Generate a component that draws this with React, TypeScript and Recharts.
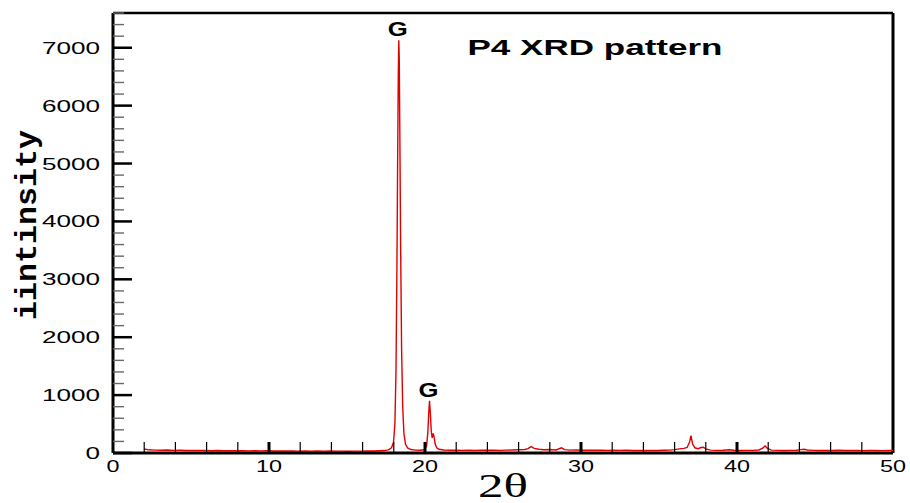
import React from 'react';
import { LineChart, Line, XAxis, YAxis, ReferenceLine, ReferenceDot } from 'recharts';

const twoTheta = [
  2.0, 2.3, 2.7, 3.1, 3.5, 3.9, 4.3, 4.7, 5.1, 5.5, 5.9, 6.3, 6.7, 7.1, 7.5, 7.9, 8.3, 8.7, 9.1, 9.5,
  9.9, 10.3, 10.7, 11.1, 11.5, 11.9, 12.3, 12.7, 13.1, 13.5, 13.9, 14.3, 14.7, 15.1, 15.5, 15.9, 16.3, 16.7, 17.1, 17.4,
  17.65, 17.85, 17.98, 18.07, 18.14, 18.2, 18.25, 18.29, 18.32, 18.35, 18.39, 18.44, 18.5, 18.57, 18.65, 18.75, 18.9, 19.1, 19.4, 19.7,
  19.95, 20.1, 20.18, 20.24, 20.29, 20.34, 20.4, 20.46, 20.53, 20.58, 20.65, 20.75, 20.9, 21.2, 21.6, 22.0, 22.4, 22.8, 23.2, 23.6,
  24.0, 24.4, 24.8, 25.2, 25.6, 26.0, 26.4, 26.6, 26.8, 27.0, 27.3, 27.6, 28.0, 28.4, 28.75, 28.95, 29.3, 29.7, 30.1, 30.5,
  30.9, 31.3, 31.7, 32.1, 32.5, 32.9, 33.3, 33.7, 34.1, 34.5, 34.9, 35.3, 35.7, 36.0, 36.3, 36.6, 36.8, 36.95, 37.05, 37.15,
  37.3, 37.5, 37.7, 37.85, 38.0, 38.3, 38.7, 39.1, 39.5, 39.8, 40.2, 40.6, 41.0, 41.4, 41.65, 41.8, 41.95, 42.2, 42.6, 43.0,
  43.4, 43.8, 44.1, 44.3, 44.5, 44.9, 45.3, 45.7, 46.1, 46.5, 46.9, 47.3, 47.7, 48.1, 48.5, 48.9, 49.3, 49.7, 50.0,
];

const intensity = [
  70, 55, 50, 48, 52, 46, 47, 44, 45, 42, 44, 40, 42, 39, 41, 38, 40, 37, 39, 36,
  38, 35, 37, 34, 36, 33, 35, 33, 34, 32, 34, 32, 33, 31, 33, 32, 34, 35, 38, 42,
  55, 90, 180, 500, 1400, 3200, 5200, 6600, 7130, 6800, 5400, 3500, 1800, 800, 330, 150, 85, 60, 50, 48,
  55, 120, 350, 700, 900, 700, 380, 260, 340, 280, 160, 90, 65, 52, 48, 50, 46, 49, 45, 48,
  47, 50, 46, 49, 52, 55, 60, 75, 110, 80, 65, 55, 60, 52, 90, 58, 50, 52, 48, 50,
  47, 49, 46, 48, 45, 47, 44, 46, 43, 45, 44, 47, 50, 58, 72, 80, 95, 180, 300, 160,
  90, 75, 95, 100, 70, 50, 45, 47, 55, 48, 44, 46, 45, 52, 85, 120, 80, 50, 46, 44,
  46, 48, 58, 65, 52, 45, 43, 45, 42, 47, 44, 42, 43, 41, 43, 42, 41, 42, 42,
];

const xTicks = [0, 2, 4, 6, 8, 10, 12, 14, 16, 18, 20, 22, 24, 26, 28, 30, 32, 34, 36, 38, 40, 42, 44, 46, 48, 50];
const xLabelValues = [0, 10, 20, 30, 40, 50];
const yTicks = [
  0, 200, 400, 600, 800, 1000, 1200, 1400, 1600, 1800, 2000, 2200, 2400, 2600, 2800, 3000, 3200, 3400, 3600, 3800,
  4000, 4200, 4400, 4600, 4800, 5000, 5200, 5400, 5600, 5800, 6000, 6200, 6400, 6600, 6800, 7000, 7200, 7400, 7600,
];
const yLabelValues = [0, 1000, 2000, 3000, 4000, 5000, 6000, 7000];

const peakX = [18.32, 20.29];
const peakY = [7130, 900];
const peakText = ['G', 'G'];

const title = 'P4 XRD pattern';
const xTitle = '2\u03b8';
const yTitle = 'iintinsity';

const data = twoTheta.map((x, i) => ({ x, y: intensity[i] }));

const SANS = '"Liberation Sans", Arial, sans-serif';

const YTick = (props: any) => {
  const { x, y, payload } = props;
  const v = Number(payload.value);
  const major = v % 1000 === 0;
  const labeled = yLabelValues.includes(v);
  const s = String(v);
  return (
    <g>
      <line
        x1={x}
        x2={x + (major ? 19 : 11)}
        y1={y}
        y2={y}
        stroke={major ? 'black' : 'dimgray'}
        strokeWidth={major ? 2.5 : 1.4}
      />
      {labeled ? (
        <text
          x={x - 13}
          y={y + 6}
          textAnchor="end"
          fontFamily={SANS}
          fontSize={17}
          textLength={s.length * 14.5}
          lengthAdjust="spacingAndGlyphs"
          fill="#000"
        >
          {s}
        </text>
      ) : null}
    </g>
  );
};

const XTick = (props: any) => {
  const { x, y, payload } = props;
  const v = Number(payload.value);
  const major = v % 10 === 0;
  const labeled = xLabelValues.includes(v);
  const s = String(v);
  return (
    <g>
      {v > 0 && v < 50 ? (
        <line
          x1={x}
          x2={x}
          y1={y}
          y2={y - 11}
          stroke="#000"
          strokeWidth={major ? 3 : 1.2}
        />
      ) : null}
      {labeled ? (
        <text
          x={x}
          y={y + 19}
          textAnchor="middle"
          fontFamily={SANS}
          fontSize={17}
          textLength={s.length * 13}
          lengthAdjust="spacingAndGlyphs"
          fill="#000"
        >
          {s}
        </text>
      ) : null}
    </g>
  );
};

const peakLabel = (text: string) => (props: any) => {
  const vb = props.viewBox || {};
  const cx = (vb.x ?? 0) + (vb.width ?? 0) / 2;
  const cy = (vb.y ?? 0) + (vb.height ?? 0) / 2;
  return (
    <text
      x={cx - 1}
      y={cy - 4}
      textAnchor="middle"
      fontFamily={SANS}
      fontWeight="bold"
      fontSize={20}
      textLength={20}
      lengthAdjust="spacingAndGlyphs"
      fill="#000"
    >
      {text}
    </text>
  );
};

export default function App() {
  return (
    <div style={{ position: 'absolute', left: 0, top: 0, width: 910, height: 503, background: '#fff' }}>
      <LineChart
        width={910}
        height={503}
        data={data}
        margin={{ top: 13, right: 17, bottom: 20, left: 53 }}
      >
        <XAxis
          dataKey="x"
          type="number"
          domain={[0, 50]}
          ticks={xTicks}
          interval={0}
          tickSize={0}
          tickMargin={0}
          height={30}
          tick={<XTick />}
          axisLine={{ stroke: '#000', strokeWidth: 3 }}
          allowDataOverflow
        />
        <YAxis
          type="number"
          domain={[0, 7600]}
          ticks={yTicks}
          interval={0}
          tickSize={0}
          tickMargin={0}
          width={60}
          tick={<YTick />}
          axisLine={{ stroke: '#000', strokeWidth: 3 }}
          allowDataOverflow
        />
        <ReferenceLine y={7600} stroke="#000" strokeWidth={2.5} />
        <ReferenceLine x={50} stroke="#000" strokeWidth={3} />
        <Line
          type="linear"
          dataKey="y"
          stroke="#e00000"
          strokeWidth={1.4}
          dot={false}
          isAnimationActive={false}
        />
        {peakX.map((px, i) => (
          <ReferenceDot
            key={i}
            x={px}
            y={peakY[i]}
            r={1}
            fill="none"
            stroke="none"
            label={{ content: peakLabel(peakText[i]) }}
          />
        ))}
      </LineChart>
      <svg
        width={910}
        height={503}
        style={{ position: 'absolute', left: 0, top: 0, pointerEvents: 'none' }}
      >
        <text
          x={595}
          y={55}
          textAnchor="middle"
          fontFamily={SANS}
          fontWeight="bold"
          fontSize={22}
          textLength={255}
          lengthAdjust="spacingAndGlyphs"
          fill="#000"
        >
          {title}
        </text>
        <text
          transform="translate(36,225) rotate(-90)"
          textAnchor="middle"
          fontFamily='"Liberation Mono", "Courier New", monospace'
          fontWeight="bold"
          fontSize={30}
          textLength={190}
          lengthAdjust="spacingAndGlyphs"
          fill="#000"
        >
          {yTitle}
        </text>
        <text
          x={503}
          y={497}
          textAnchor="middle"
          fontFamily='"Liberation Serif", "Times New Roman", serif'
          fontSize={34}
          textLength={50}
          lengthAdjust="spacingAndGlyphs"
          fill="#000"
        >
          {xTitle}
        </text>
      </svg>
    </div>
  );
}
